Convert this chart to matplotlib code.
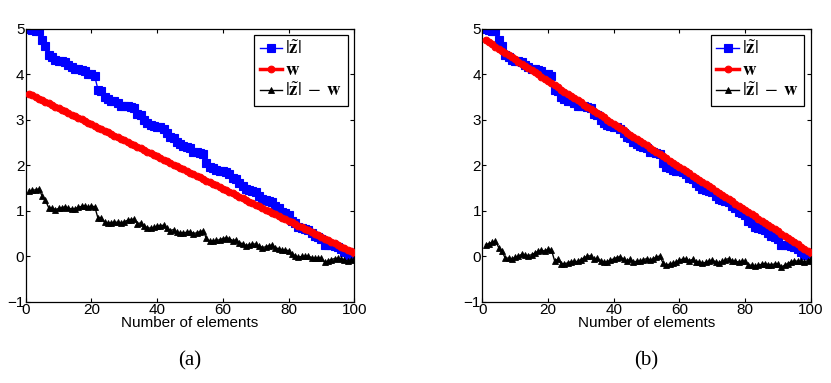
import numpy as np
import matplotlib.pyplot as plt

plt.switch_backend('agg')
plt.rcParams['font.family'] = ['Liberation Sans', 'DejaVu Sans']
plt.rcParams['mathtext.fontset'] = 'stix'

# sorted magnitudes |z~| (same for both panels)
z_abs = [5.00, 4.98, 4.96, 4.94, 4.75, 4.62, 4.42, 4.38, 4.31, 4.30,
         4.28, 4.27, 4.20, 4.15, 4.12, 4.11, 4.10, 4.08, 4.01, 4.00,
         3.95, 3.66, 3.64, 3.50, 3.45, 3.42, 3.40, 3.36, 3.31, 3.30,
         3.30, 3.28, 3.25, 3.12, 3.10, 3.00, 2.92, 2.88, 2.86, 2.85,
         2.83, 2.80, 2.70, 2.61, 2.60, 2.50, 2.46, 2.42, 2.40, 2.38,
         2.30, 2.28, 2.27, 2.25, 2.05, 1.95, 1.93, 1.90, 1.88, 1.87,
         1.85, 1.80, 1.72, 1.70, 1.60, 1.55, 1.47, 1.45, 1.43, 1.40,
         1.32, 1.25, 1.23, 1.22, 1.20, 1.10, 1.05, 0.98, 0.95, 0.90,
         0.78, 0.72, 0.65, 0.63, 0.60, 0.57, 0.50, 0.45, 0.42, 0.38,
         0.25, 0.25, 0.24, 0.23, 0.20, 0.15, 0.10, 0.03, 0.02, 0.00]

# threshold line w: start / end values for each panel
w_start = [3.57, 4.75]
w_end = [0.07, 0.07]
panel_labels = ['(a)', '(b)']
xticks = [0, 20, 40, 60, 80, 100]
yticks = [-1, 0, 1, 2, 3, 4, 5]

n = np.arange(1, len(z_abs) + 1)
z = np.array(z_abs)

fig = plt.figure(figsize=(8.31, 3.83), dpi=100)
lefts = [0.031, 0.5804]
for i in range(2):
    ax = fig.add_axes([lefts[i], 0.2123, 0.3953, 0.7128])
    w = np.linspace(w_start[i], w_end[i], len(n))
    ax.plot(n, z, '-s', color='#0000ff', markersize=5.5, markeredgewidth=0.8,
            markerfacecolor='#0000ff', lw=1, label=r'$|\tilde{\mathbf{z}}|$', zorder=2)
    ax.plot(n, w, '-o', color='#ff0000', markersize=4.8, markeredgewidth=0.8,
            lw=2.5, label=r'$\mathbf{w}$', zorder=3)
    ax.plot(n, z - w, '-^', color='black', markersize=4, markeredgewidth=0.6,
            lw=1, label=r'$|\tilde{\mathbf{z}}|\;-\;\mathbf{w}$', zorder=4)
    ax.set_xlim(0, 100)
    ax.set_ylim(-1, 5)
    ax.set_xticks(xticks)
    ax.set_yticks(yticks)
    ax.tick_params(direction='in', top=True, right=True, labelsize=11,
                   length=3, width=0.8, pad=1)
    for s in ax.spines.values():
        s.set_linewidth(0.9)
    ax.set_xlabel('Number of elements', fontsize=11, labelpad=-1)
    leg = ax.legend(loc='upper right', fontsize=13.5, handlelength=1.2,
                    handletextpad=0.15, borderpad=0.3, labelspacing=0.2,
                    fancybox=False, edgecolor='black', framealpha=1,
                    borderaxespad=0.35)
    leg.get_frame().set_linewidth(0.9)
    ax.text(0.5, -0.215, panel_labels[i], transform=ax.transAxes, ha='center',
            va='center', fontsize=15, family=['Liberation Serif', 'DejaVu Serif'])

fig.savefig('out.png', dpi=100)
plt.close(fig)
